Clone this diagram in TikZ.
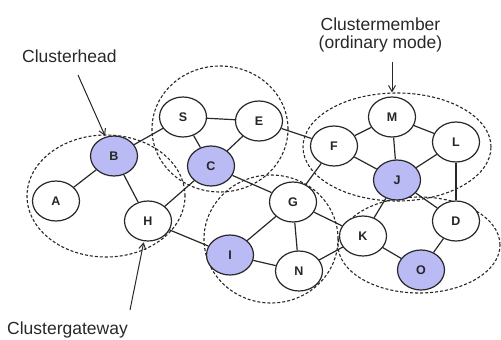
\documentclass[tikz,border=0pt]{standalone}
\usepackage{fontspec}
\setmainfont{Liberation Sans}
\usetikzlibrary{shapes.geometric,arrows.meta,backgrounds}
\definecolor{lav}{RGB}{186,186,244}
\definecolor{ink}{RGB}{40,40,40}
\begin{document}
\begin{tikzpicture}[x=1pt,y=-1pt,
  nd/.style={ellipse,draw=ink,line width=1.2pt,fill=white,minimum width=47pt,minimum height=40pt,inner sep=0pt,font=\fontsize{12.5}{14}\selectfont\bfseries,text=black!85},
  hd/.style={nd,fill=lav},
  edge/.style={draw=ink,line width=1.2pt},
  cl/.style={draw=ink,line width=1.1pt,dash pattern=on 3pt off 2pt},
  lbl/.style={font=\fontsize{17.5}{18.5}\selectfont,text=ink,inner sep=0pt},
  arr/.style={draw=ink,line width=1pt,-{Straight Barb[length=6pt,width=7pt]}}]
\useasboundingbox (0,0) rectangle (501,340);
% nodes
\node[nd] (A) at (56,201) {A};
\node[hd] (B) at (114,156) {B};
\node[nd] (H) at (148,221) {H};
\node[nd] (S) at (183,117) {S};
\node[nd] (E) at (259,121) {E};
\node[hd] (C) at (211,166) {C};
\node[nd] (G) at (293,202) {G};
\node[hd] (I) at (230,255) {I};
\node[nd] (N) at (299,271) {N};
\node[nd] (K) at (363,236) {K};
\node[hd] (O) at (421,270) {O};
\node[nd] (D) at (456,221) {D};
\node[hd] (J) at (397,180) {J};
\node[nd] (F) at (334,146) {F};
\node[nd] (M) at (392,117) {M};
\node[nd] (L) at (456,142) {L};
\begin{scope}[on background layer]
  % clusters
  \draw[cl] (106,196) ellipse [x radius=79pt, y radius=61pt];
  \draw[cl] (220,129) ellipse [x radius=68pt, y radius=63pt];
  \draw[cl] (271,239) ellipse [x radius=67pt, y radius=64pt];
  \draw[cl] (397,147) ellipse [x radius=94pt, y radius=54pt];
  \draw[cl] (419,245) ellipse [x radius=81pt, y radius=48pt];
  % edges
  \foreach \a/\b in {A/B,B/S,B/H,H/C,H/I,S/C,S/E,C/E,C/G,E/F,F/G,F/M,F/J,M/J,M/L,J/L,L/D,J/D,J/K,G/I,G/N,G/K,I/N,N/K,K/O,O/D}
    \draw[edge] (\a) -- (\b);
\end{scope}
% labels
\node[lbl,anchor=base west] (thead) at (22,62) {Clusterhead};
\node[lbl,align=center,anchor=north] (tmem) at (380.5,17.5) {Clustermember\\(ordinary mode)};
\node[lbl,anchor=base west] (tgate) at (7,334) {Clustergateway};
% arrows
\coordinate (ah) at (78,75);
\draw[arr,shorten >=1pt] (ah) -- (B);
\coordinate (am) at (392,62);
\draw[arr,shorten >=4pt] (am) -- (M);
\coordinate (ag) at (130,310);
\draw[arr,shorten >=1pt] (ag) -- (H);
\end{tikzpicture}
\end{document}
